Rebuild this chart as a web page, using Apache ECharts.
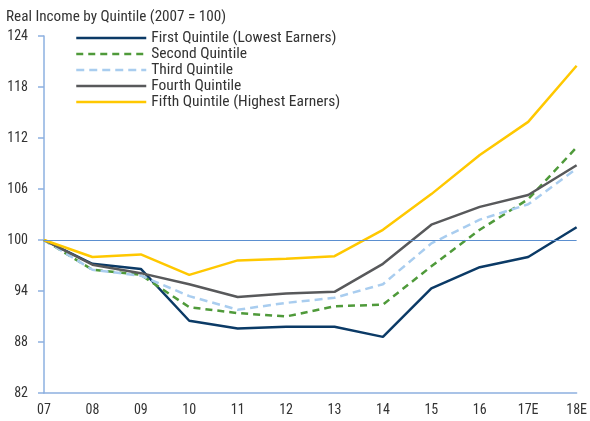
<!DOCTYPE html>
<html>
<head>
<meta charset="utf-8">
<script src="https://cdn.jsdelivr.net/npm/echarts@6/dist/echarts.min.js"></script>
<style>
  html, body { margin: 0; padding: 0; background: #fff; }
  #grafica { width: 590px; height: 421px; }
</style>
</head>
<body>
<div id="grafica"></div>
<script>
const anios = ["07", "08", "09", "10", "11", "12", "13", "14", "15", "16", "17E", "18E"];
const primero = [100, 97.2, 96.6, 90.5, 89.6, 89.8, 89.8, 88.6, 94.3, 96.8, 98.0, 101.5];
const segundo = [100, 96.5, 95.9, 92.1, 91.4, 91.0, 92.2, 92.4, 96.9, 101.2, 104.8, 110.9];
const tercero = [100, 96.5, 95.8, 93.4, 91.8, 92.6, 93.2, 94.8, 99.6, 102.4, 104.2, 108.4];
const cuarto = [100, 97.1, 96.1, 94.8, 93.3, 93.7, 93.9, 97.2, 101.8, 103.9, 105.3, 108.8];
const quinto = [100, 98.0, 98.3, 95.9, 97.6, 97.8, 98.1, 101.2, 105.4, 110.0, 113.9, 120.5];
const nombres = ["First Quintile (Lowest Earners)", "Second Quintile", "Third Quintile", "Fourth Quintile", "Fifth Quintile (Highest Earners)"];

const fuente = '"Roboto Condensed", Roboto, sans-serif';
const azulEje = "#8db0e0";

var dom = document.getElementById('grafica');
var myChart = echarts.init(dom, null, { renderer: 'canvas' });

function serie(nombre, datos, color, tipo) {
  return {
    name: nombre,
    type: 'line',
    data: datos,
    symbol: 'none',
    lineStyle: { color: color, width: 2.5, type: tipo },
    itemStyle: { color: color }
  };
}

var option = {
  animation: false,
  title: {
    text: 'Real Income by Quintile (2007 = 100)',
    left: 1, top: 5,
    textStyle: { fontFamily: fuente, fontSize: 15.2, fontWeight: 'normal', color: '#333' }
  },
  legend: {
    orient: 'vertical',
    left: 70, top: 25,
    itemWidth: 70, itemHeight: 12, itemGap: 0,
    itemStyle: { opacity: 0 },
    lineStyle: { width: 2.5 },
    textStyle: { fontFamily: fuente, fontSize: 15.5, color: '#333', lineHeight: 15 },
    data: nombres
  },
  grid: { left: 44, right: 9, top: 36, bottom: 28 },
  xAxis: {
    type: 'category',
    data: anios,
    boundaryGap: false,
    axisLine: { lineStyle: { color: azulEje, width: 1.5 } },
    axisTick: { show: false },
    axisLabel: { fontFamily: fuente, fontSize: 14, color: '#333', margin: 10 }
  },
  yAxis: {
    type: 'value',
    min: 82, max: 124, interval: 6,
    axisLine: { show: true, lineStyle: { color: azulEje, width: 1.5 } },
    axisTick: { show: true, length: 6, lineStyle: { color: azulEje, width: 1.5 } },
    splitLine: { show: false },
    axisLabel: { fontFamily: fuente, fontSize: 14, color: '#333', margin: 16 }
  },
  series: [
    Object.assign(serie(nombres[0], primero, '#0b3a66', 'solid'), {
      markLine: {
        silent: true, symbol: 'none', label: { show: false },
        lineStyle: { color: '#5b8fd0', width: 1.2, type: 'solid' },
        data: [{ yAxis: 100 }]
      }
    }),
    serie(nombres[1], segundo, '#4f9a3a', [7, 5]),
    serie(nombres[2], tercero, '#a9cdef', [8, 5]),
    serie(nombres[3], cuarto, '#58595b', 'solid'),
    serie(nombres[4], quinto, '#ffc800', 'solid')
  ]
};

myChart.setOption(option);
</script>
</body>
</html>
